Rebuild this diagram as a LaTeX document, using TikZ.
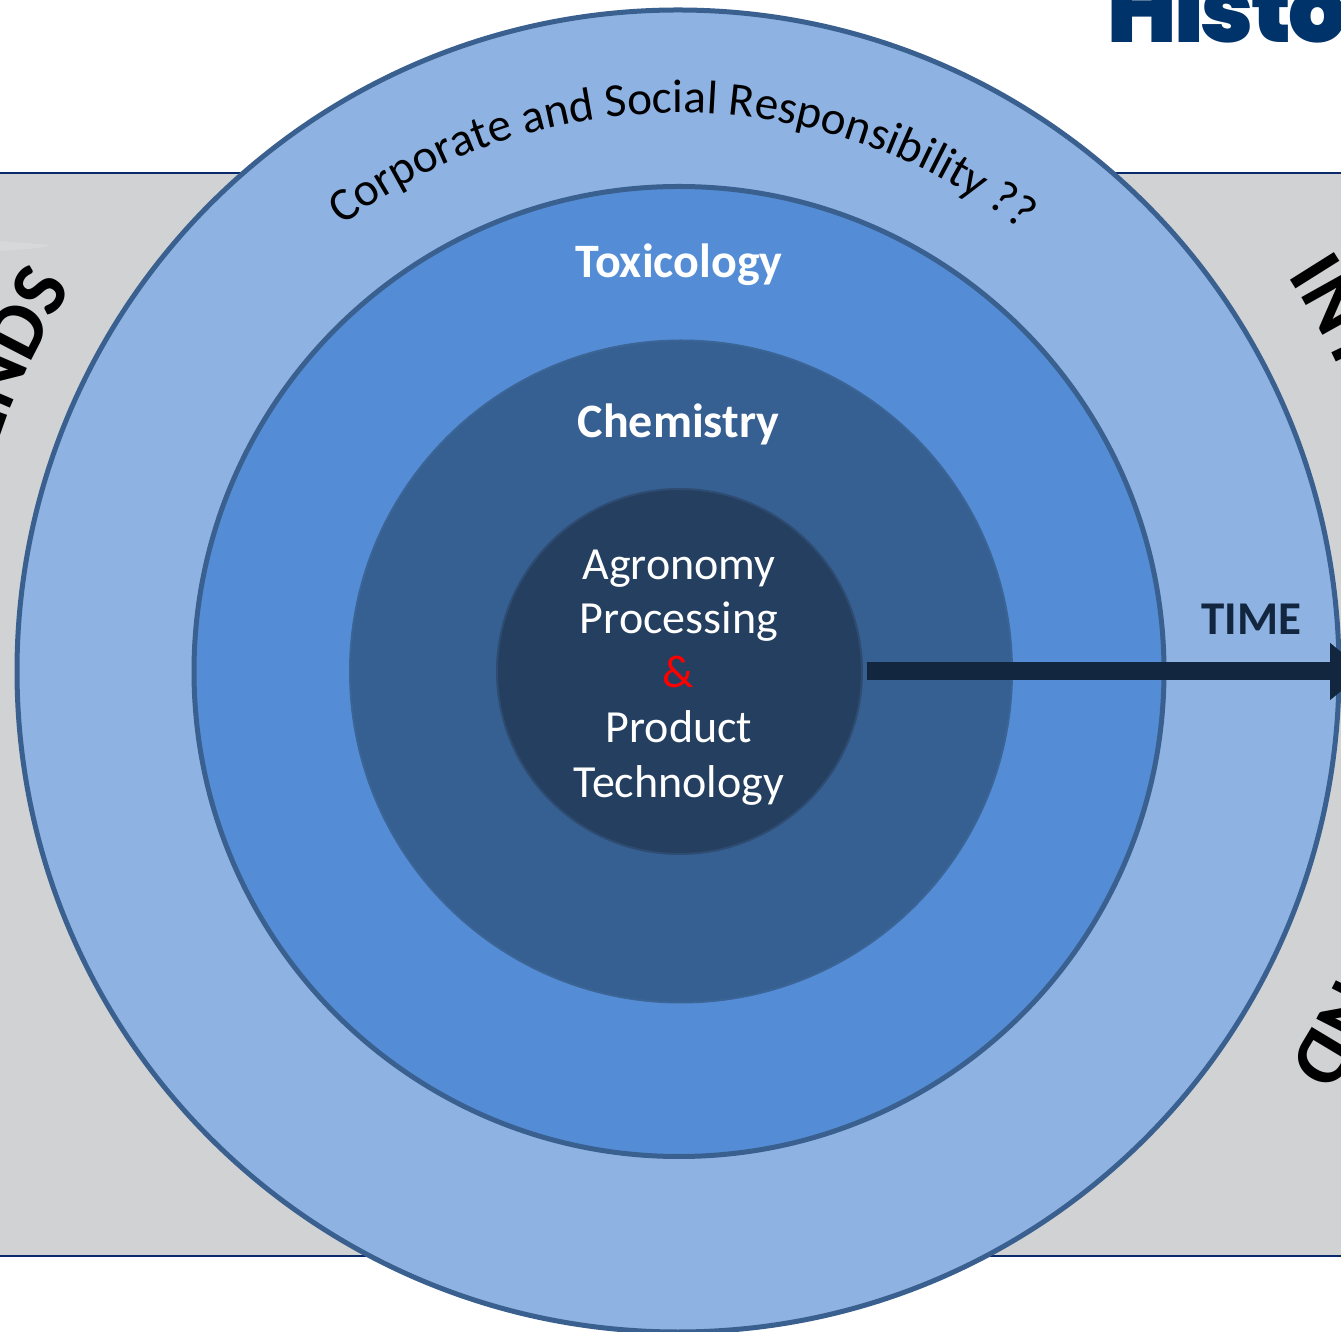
\documentclass[tikz,border=0pt]{standalone}
\usepackage{fontspec}
\usetikzlibrary{arrows.meta,decorations.text}
\setmainfont{Carlito}
\newfontfamily\logofont[UprightFont=* Black,LetterSpace=-3]{Poppins}
\definecolor{bggray}{HTML}{D1D2D4}
\definecolor{rulenavy}{HTML}{0B2A6B}
\definecolor{ringedge}{HTML}{3A6090}
\definecolor{ringa}{HTML}{8EB2E2}
\definecolor{ringb}{HTML}{548DD6}
\definecolor{ringc}{HTML}{365F92}
\definecolor{ringcedge}{HTML}{3A6596}
\definecolor{ringd}{HTML}{253F60}
\definecolor{ringdedge}{HTML}{2E4C72}
\definecolor{arrownavy}{HTML}{12263F}
\definecolor{logoblue}{HTML}{00336A}
\tikzset{
  x=1pt,y=1pt,
  ring/.style={circle,inner sep=0pt,outer sep=0pt,line width=5pt},
  corelabel/.style={anchor=base,text=white,font=\fontsize{46}{46}\selectfont,inner sep=0pt},
  boldlabel/.style={anchor=base,text=white,font=\fontsize{48}{48}\selectfont\bfseries,inner sep=0pt},
  timeflow/.style={line width=18pt,draw=arrownavy,-{Triangle[length=35pt,width=55pt,fill=arrownavy]}},
}
\begin{document}
\begin{tikzpicture}
\useasboundingbox (0,0) rectangle (1341,1331);
\clip (0,0) rectangle (1341,1331);
\fill[white] (0,0) rectangle (1341,1331);
% grey band
\fill[bggray] (0,75) rectangle (1341,1158);
\draw[rulenavy,line width=2pt] (0,1158) -- (1341,1158);
\draw[rulenavy,line width=2pt] (0,75) -- (1341,75);
\fill[white,opacity=.15] (0,1090) -- (50,1086) -- (40,1083) -- (0,1080) -- cycle;
% logo
\node[anchor=base west,inner sep=0pt,text=logoblue,font=\logofont\fontsize{92}{92}\selectfont] (logo) at (1107,1288.5) {Histo};
% side words
\path[decorate,decoration={text along path,text align=right,text={|\fontsize{80}{80}\selectfont\bfseries|ENDS}}]
  (679,660) ++(215:718) arc[start angle=215,end angle=147.7,radius=718];
\path[decorate,decoration={text along path,text align=left,text={|\fontsize{80}{80}\selectfont\bfseries|INT}}]
  (679,660) ++(33:726) arc[start angle=33,end angle=-10,radius=726];
\path[decorate,decoration={text along path,text align=right,text={|\fontsize{80}{80}\selectfont\bfseries|ND}}]
  (679,660) ++(0:726) arc[start angle=0,end angle=-33,radius=726];
% rings
\node[ring,draw=ringedge,fill=ringa,minimum size=1322pt] (outer) at (678,660) {};
\node[ring,draw=ringedge,fill=ringb,minimum size=970pt] (second) at (679,659.5) {};
\node[ring,draw=ringcedge,line width=2pt,fill=ringc,minimum size=662pt] (third) at (681,659.5) {};
\node[ring,draw=ringdedge,line width=2pt,fill=ringd,minimum size=365pt] (inner) at (679.5,659.5) {};
% curved title
\path[decorate,decoration={text along path,text align=center,text={|\fontsize{47.2}{47.2}\selectfont|Corporate and Social Responsibility ??}}]
  (679,660) ++(149.6:558) arc[start angle=149.6,end angle=29.6,radius=558];
% labels
\node[boldlabel] (tox) at (679,1053) {Toxicology};
\node[boldlabel] (chem) at (678.5,893) {Chemistry};
\node[corelabel] (agro) at (679,751) {Agronomy};
\node[corelabel] (proc) at (679,697) {Processing};
\node[corelabel,text=red] (amp) at (678,643) {\&};
\node[corelabel] (prod) at (679,588) {Product};
\node[corelabel] (tech) at (679,533) {Technology};
\node[anchor=base,inner sep=0pt,text=arrownavy,font=\fontsize{47}{47}\selectfont\bfseries] (time) at (1251.5,696) {TIME};
% arrow
\coordinate (arrowend) at (1365,659.5);
\draw[timeflow] (inner.east) ++(5,0) -- (arrowend);
\end{tikzpicture}
\end{document}
